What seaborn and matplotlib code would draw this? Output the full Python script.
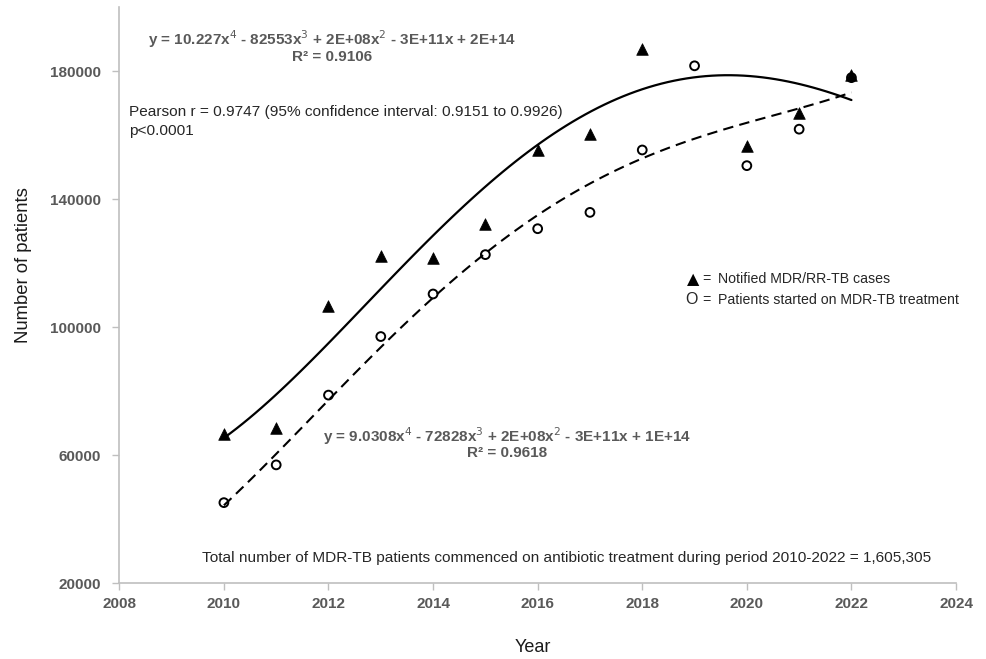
import numpy as np
import pandas as pd
import matplotlib
matplotlib.use("Agg")
import matplotlib.pyplot as plt
import seaborn as sns

# ---- data ----
years = [2010, 2011, 2012, 2013, 2014, 2015, 2016, 2017, 2018, 2019, 2020, 2021, 2022]
# 2019 notified value lies above the axis maximum (clipped, as in the original)
notified = [66700, 68600, 106600, 122300, 121600, 132400, 155400, 160300, 186900, 203000, 156700, 167100, 178800]
started = [45200, 57000, 78800, 97100, 110400, 122700, 130800, 135900, 155400, 181700, 150500, 161900, 178000]
x_ticks = [2008, 2010, 2012, 2014, 2016, 2018, 2020, 2022, 2024]
y_ticks = [20000, 60000, 100000, 140000, 180000]

df = pd.DataFrame({"Year": years, "Notified": notified, "Started": started})

sns.set_theme(style="white")
plt.rcParams['font.family'] = ['Liberation Sans', 'DejaVu Sans']

GREY = "#595959"
AXC = "#bfbfbf"

fig = plt.figure(figsize=(9.86, 6.59), dpi=100)
ax = fig.add_axes([0.121, 0.1149, 0.8486, 0.8741])

# trend lines (4th order polynomial)
sns.regplot(data=df, x="Year", y="Started", order=4, ci=None, scatter=False, ax=ax,
            line_kws=dict(color="black", lw=1.5, linestyle=(0, (5, 3)), zorder=2))
sns.regplot(data=df, x="Year", y="Notified", order=4, ci=None, scatter=False, ax=ax,
            line_kws=dict(color="black", lw=1.6, zorder=2))

# markers
sns.scatterplot(data=df, x="Year", y="Started", marker="o", s=40, facecolor="none",
                edgecolor="black", linewidth=1.4, ax=ax, zorder=3)
sns.scatterplot(data=df, x="Year", y="Notified", marker="^", s=70, color="black",
                edgecolor="black", linewidth=0.5, ax=ax, zorder=4)

ax.set_xlim(2008, 2024)
ax.set_ylim(20000, 200000)
ax.set_xticks(x_ticks)
ax.set_yticks(y_ticks)
ax.set_xticklabels([str(t) for t in x_ticks], fontsize=11, fontweight="bold", color=GREY)
ax.set_yticklabels([str(t) for t in y_ticks], fontsize=11, fontweight="bold", color=GREY)
ax.tick_params(axis="both", direction="out", length=5, width=1, color=AXC, bottom=True, left=True)
ax.tick_params(axis="x", pad=5)
ax.tick_params(axis="y", pad=8)

for s in ["top", "right"]:
    ax.spines[s].set_visible(False)
for s in ["left", "bottom"]:
    ax.spines[s].set_color(AXC)
    ax.spines[s].set_linewidth(1.2)

ax.set_xlabel("Year", fontsize=13, color="#1a1a1a")
ax.set_ylabel("Number of patients", fontsize=13.3, color="#1a1a1a")
ax.xaxis.set_label_coords(0.4945, -0.1123)
ax.yaxis.set_label_coords(-0.115, 0.5526)
ax.xaxis.label.set_va("center")
ax.yaxis.label.set_va("center")


def ftext(xp, yp, s, **kw):
    fig.text(xp / 986, 1 - yp / 659, s, **kw)


ftext(332, 39, "y = 10.227x$^4$ - 82553x$^3$ + 2E+08x$^2$ - 3E+11x + 2E+14",
      ha="center", va="center", fontsize=11, fontweight="bold", color=GREY)
ftext(332, 57, "R² = 0.9106", ha="center", va="center", fontsize=11, fontweight="bold", color=GREY)

ftext(129, 112, "Pearson r = 0.9747 (95% confidence interval: 0.9151 to 0.9926)",
      ha="left", va="center", fontsize=11.1, color="#262626")
ftext(129, 131, "p<0.0001", ha="left", va="center", fontsize=11.1, color="#262626")

ftext(507, 436, "y = 9.0308x$^4$ - 72828x$^3$ + 2E+08x$^2$ - 3E+11x + 1E+14",
      ha="center", va="center", fontsize=11, fontweight="bold", color=GREY)
ftext(507, 453, "R² = 0.9618", ha="center", va="center", fontsize=11, fontweight="bold", color=GREY)

ftext(202, 558, "Total number of MDR-TB patients commenced on antibiotic treatment during period 2010-2022 = 1,605,305",
      ha="left", va="center", fontsize=11.1, color="#262626")

# legend as text
ftext(687, 280, "▲", ha="left", va="center", fontsize=11.5, color="black",
      family=['DejaVu Sans'])
ftext(702, 279, "=", ha="left", va="center", fontsize=10.2, color="#262626")
ftext(718, 279, "Notified MDR/RR-TB cases", ha="left", va="center", fontsize=10.2, color="#262626")
ftext(685, 300, "O", ha="left", va="center", fontsize=11.5, color="#262626")
ftext(702, 300, "=", ha="left", va="center", fontsize=10.2, color="#262626")
ftext(718, 300, "Patients started on MDR-TB treatment", ha="left", va="center", fontsize=10.2, color="#262626")

fig.savefig("out.png", dpi=100)
